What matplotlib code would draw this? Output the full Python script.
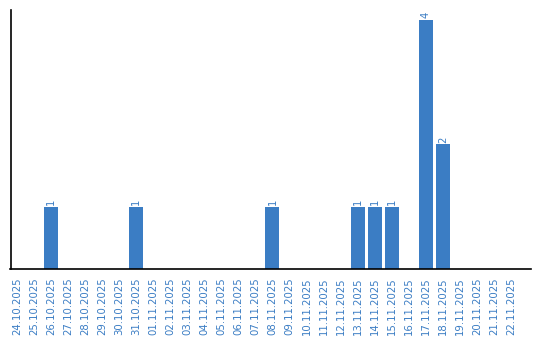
import matplotlib
matplotlib.use("Agg")
import matplotlib.pyplot as plt

dates = ["24.10.2025", "25.10.2025", "26.10.2025", "27.10.2025", "28.10.2025",
         "29.10.2025", "30.10.2025", "31.10.2025", "01.11.2025", "02.11.2025",
         "03.11.2025", "04.11.2025", "05.11.2025", "06.11.2025", "07.11.2025",
         "08.11.2025", "09.11.2025", "10.11.2025", "11.11.2025", "12.11.2025",
         "13.11.2025", "14.11.2025", "15.11.2025", "16.11.2025", "17.11.2025",
         "18.11.2025", "19.11.2025", "20.11.2025", "21.11.2025", "22.11.2025"]
counts = [0, 0, 1, 0, 0, 0, 0, 1, 0, 0,
          0, 0, 0, 0, 0, 1, 0, 0, 0, 0,
          1, 1, 1, 0, 4, 2, 0, 0, 0, 0]

bar_color = "#3b7dc4"
text_color = "#3b7dc4"

fig = plt.figure(figsize=(5.4, 3.4), dpi=100)
ax = fig.add_axes([10.5 / 540, 71 / 340, (531 - 10.5) / 540, (269 - 10) / 340])

x = list(range(len(dates)))
ax.bar(x, counts, width=0.82, color=bar_color)
for xi, c in zip(x, counts):
    if c > 0:
        ax.text(xi, c + 0.03, str(c), rotation=90, ha="center", va="bottom",
                fontsize=7.3, color=text_color)

ax.set_xlim(-0.38, 30.18)
ax.set_ylim(0, 4.16)
ax.set_xticks(x)
ax.set_xticklabels(dates, rotation=90, fontsize=7.3, color=text_color)
ax.tick_params(axis="x", length=0, pad=6)
ax.set_yticks([])
for s in ["top", "right"]:
    ax.spines[s].set_visible(False)
for s in ["left", "bottom"]:
    ax.spines[s].set_color("black")
    ax.spines[s].set_linewidth(1.2)

fig.savefig("out.png", dpi=100, facecolor="white")
